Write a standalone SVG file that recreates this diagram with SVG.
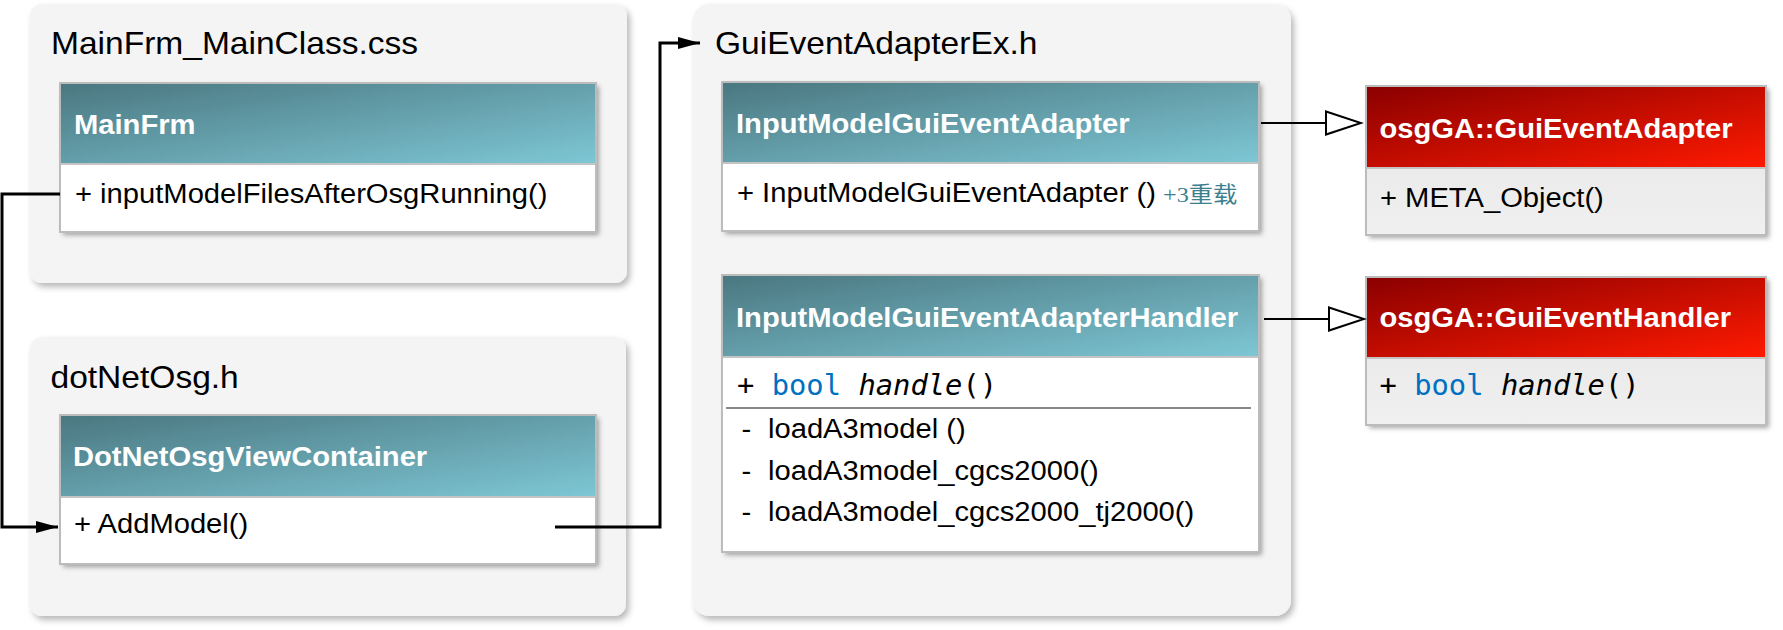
<svg xmlns="http://www.w3.org/2000/svg" width="1783" height="630" viewBox="0 0 1783 630">
<defs>
  <linearGradient id="teal" x1="0" y1="0" x2="1" y2="1">
    <stop offset="0" stop-color="#4a7780"/>
    <stop offset="1" stop-color="#7ec7d5"/>
  </linearGradient>
  <linearGradient id="red" x1="0" y1="0" x2="1" y2="1">
    <stop offset="0" stop-color="#8a0000"/>
    <stop offset="1" stop-color="#ff1a00"/>
  </linearGradient>
  <linearGradient id="grey" x1="0" y1="0" x2="0" y2="1">
    <stop offset="0" stop-color="#e4e4e4"/>
    <stop offset="1" stop-color="#f0f0f0"/>
  </linearGradient>
  <filter id="gshadow" x="-5%" y="-5%" width="112%" height="115%">
    <feDropShadow dx="3" dy="4" stdDeviation="3" flood-color="#000" flood-opacity="0.28"/>
  </filter>
  <filter id="bshadow" x="-5%" y="-10%" width="112%" height="125%">
    <feDropShadow dx="3" dy="3" stdDeviation="2.5" flood-color="#000" flood-opacity="0.35"/>
  </filter>
  <marker id="solid" markerUnits="userSpaceOnUse" markerWidth="22" markerHeight="12" refX="22" refY="6" orient="auto">
    <path d="M0,0 L22,6 L0,12 Z" fill="#000"/>
  </marker>
  <marker id="hollow" markerUnits="userSpaceOnUse" markerWidth="40" markerHeight="28" refX="37" refY="13" orient="auto">
    <path d="M2,1.5 L37,13 L2,24.5 Z" fill="#fff" stroke="#000" stroke-width="2"/>
  </marker>
  <style>
    .grp { fill: #f4f4f4; filter: url(#gshadow); }
    .gtitle { font-family: "Liberation Sans", Arial, sans-serif; font-size: 30.5px; fill: #000; }
    .box { fill: #fff; filter: url(#bshadow); }
    .outline { fill: none; stroke: #bcbcbc; stroke-width: 2; }
    .sep { stroke: #c4c4c4; stroke-width: 2; }
    .hdr { font-family: "Liberation Sans", Arial, sans-serif; font-size: 27px; font-weight: bold; fill: #fff; }
    .mem { font-family: "Liberation Sans", Arial, sans-serif; font-size: 27px; fill: #000; }
    .mono { font-family: "DejaVu Sans Mono", "Liberation Mono", monospace; font-size: 28.8px; fill: #000; }
    .kw { fill: #0070c1; }
    .it { font-style: italic; }
    .ovl { font-family: "Liberation Serif", "Noto Sans CJK SC", serif; font-size: 22px; fill: #3c8090; }
    .conn { fill: none; stroke: #000; stroke-width: 3; }
    .inh { fill: none; stroke: #000; stroke-width: 2; }
  </style>
</defs>
<rect x="0" y="0" width="1783" height="630" fill="#fff"/>

<!-- container groups -->
<g id="group-MainFrm_MainClass">
  <rect class="grp" x="30" y="4" width="597" height="279" rx="12"/>
  <text class="gtitle" transform="translate(51 54) scale(1.1 1)">MainFrm_MainClass.css</text>
</g>
<g id="group-dotNetOsg">
  <rect class="grp" x="30" y="337" width="596" height="279" rx="12"/>
  <text class="gtitle" transform="translate(50.5 388) scale(1.1 1)">dotNetOsg.h</text>
</g>
<g id="group-GuiEventAdapterEx">
  <rect class="grp" x="693" y="4" width="598" height="612" rx="16"/>
  <text class="gtitle" transform="translate(715 54) scale(1.1 1)">GuiEventAdapterEx.h</text>
</g>

<!-- class nodes -->
<g id="MainFrm">
  <rect class="box" x="60" y="83" width="536" height="149"/>
  <rect x="60" y="83" width="536" height="81" fill="url(#teal)"/>
  <line class="sep" x1="60" y1="164" x2="596" y2="164"/>
  <rect class="outline" x="60" y="83" width="536" height="149"/>
  <text class="hdr" transform="translate(74 134) scale(1.08 1)">MainFrm</text>
  <text class="mem" transform="translate(75 203) scale(1.08 1)">+ inputModelFilesAfterOsgRunning()</text>
</g>

<g id="DotNetOsgViewContainer">
  <rect class="box" x="60" y="415" width="536" height="149"/>
  <rect x="60" y="415" width="536" height="82" fill="url(#teal)"/>
  <line class="sep" x1="60" y1="497" x2="596" y2="497"/>
  <rect class="outline" x="60" y="415" width="536" height="149"/>
  <text class="hdr" transform="translate(73 466) scale(1.08 1)">DotNetOsgViewContainer</text>
  <text class="mem" transform="translate(74 533) scale(1.08 1)">+ AddModel()</text>
</g>

<g id="InputModelGuiEventAdapter">
  <rect class="box" x="722" y="82" width="537" height="149"/>
  <rect x="722" y="82" width="537" height="81" fill="url(#teal)"/>
  <line class="sep" x1="722" y1="163" x2="1259" y2="163"/>
  <rect class="outline" x="722" y="82" width="537" height="149"/>
  <text class="hdr" transform="translate(736 133) scale(1.08 1)">InputModelGuiEventAdapter</text>
  <text class="mem" transform="translate(737 202) scale(1.08 1)">+ InputModelGuiEventAdapter ()</text>
  <text class="ovl" transform="translate(1163 202) scale(1.1 1)">+3重载</text>
</g>

<g id="InputModelGuiEventAdapterHandler">
  <rect class="box" x="722" y="275" width="537" height="277"/>
  <rect x="722" y="275" width="537" height="82" fill="url(#teal)"/>
  <line class="sep" x1="722" y1="357" x2="1259" y2="357"/>
  <rect class="outline" x="722" y="275" width="537" height="277"/>
  <text class="hdr" transform="translate(736 327) scale(1.08 1)">InputModelGuiEventAdapterHandler</text>
  <text class="mono" x="737" y="395" xml:space="preserve">+ <tspan class="kw">bool</tspan> <tspan class="it">handle</tspan>()</text>
  <line x1="726" y1="408" x2="1251" y2="408" stroke="#888" stroke-width="2"/>
  <text class="mem" transform="translate(741.5 438) scale(1.08 1)">-</text>
  <text class="mem" transform="translate(768 438) scale(1.08 1)">loadA3model ()</text>
  <text class="mem" transform="translate(741.5 480) scale(1.08 1)">-</text>
  <text class="mem" transform="translate(768 480) scale(1.08 1)">loadA3model_cgcs2000()</text>
  <text class="mem" transform="translate(741.5 521) scale(1.08 1)">-</text>
  <text class="mem" transform="translate(768 521) scale(1.08 1)">loadA3model_cgcs2000_tj2000()</text>
</g>

<g id="osgGA-GuiEventAdapter">
  <rect class="box" x="1366" y="86" width="400" height="149" style="fill:url(#grey)"/>
  <rect x="1366" y="86" width="400" height="82" fill="url(#red)"/>
  <line class="sep" x1="1366" y1="168" x2="1766" y2="168"/>
  <rect class="outline" x="1366" y="86" width="400" height="149"/>
  <text class="hdr" transform="translate(1379.5 138) scale(1.08 1)">osgGA::GuiEventAdapter</text>
  <text class="mem" transform="translate(1380 207) scale(1.08 1)">+ META_Object()</text>
</g>

<g id="osgGA-GuiEventHandler">
  <rect class="box" x="1366" y="277" width="400" height="148" style="fill:url(#grey)"/>
  <rect x="1366" y="277" width="400" height="81" fill="url(#red)"/>
  <line class="sep" x1="1366" y1="358" x2="1766" y2="358"/>
  <rect class="outline" x="1366" y="277" width="400" height="148"/>
  <text class="hdr" transform="translate(1379.5 327) scale(1.08 1)">osgGA::GuiEventHandler</text>
  <text class="mono" x="1379.5" y="395" xml:space="preserve">+ <tspan class="kw">bool</tspan> <tspan class="it">handle</tspan>()</text>
</g>

<!-- connectors -->
<g id="connectors">
  <path class="conn" d="M60,194 H2 V527 H58" marker-end="url(#solid)"/>
  <path class="conn" d="M555,527 H660 V43 H700" marker-end="url(#solid)"/>
  <path class="inh" d="M1261,123 H1361" marker-end="url(#hollow)"/>
  <path class="inh" d="M1264,319 H1364" marker-end="url(#hollow)"/>
</g>
</svg>
